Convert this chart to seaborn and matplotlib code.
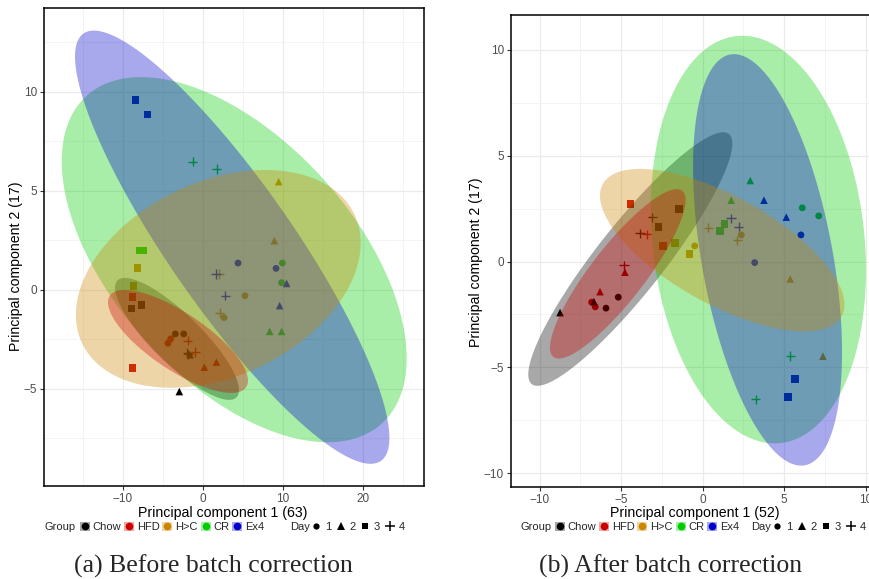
import numpy as np
import pandas as pd
import matplotlib
matplotlib.use("Agg")
import matplotlib.pyplot as plt
import seaborn as sns
from matplotlib.patches import Patch
from matplotlib.lines import Line2D

sns.set_theme(style="white")
plt.rcParams["font.family"] = ["Liberation Sans", "DejaVu Sans"]

# ---- study design: 5 diet groups x 4 days x 2 replicates ----
GROUPS = ["Chow", "HFD", "H>C", "CR", "Ex4"]
GROUP_COLORS = ["#000000", "#CD0000", "#CD8500", "#00CD00", "#0000CD"]
DAYS = [1, 2, 3, 4]
DAY_MARKERS = ["o", "^", "s", "+"]

sample_group = [g for g in GROUPS for d in DAYS for _ in range(2)]
sample_day = [d for g in GROUPS for d in DAYS for _ in range(2)]

# ---- PCA scores before batch correction (PC1 63 %, PC2 17 %) ----
before_pc1 = [-3.46, -2.41, -2.96, -1.63, -8.96, -7.71, -1.96, -1.85,   # Chow
              -4.04, -4.38, 0.17, 1.67, -8.83, -8.83, -1.92, -0.96,     # HFD
              5.25, 2.63, 9.46, 8.92, -8.21, -8.71, 2.04, 2.08,         # H>C
              9.92, 9.83, 8.33, 9.83, -7.90, -7.50, -1.29, 1.71,        # CR
              4.38, 9.13, 10.46, 9.58, -8.46, -6.96, 1.63, 2.79]        # Ex4
before_pc2 = [-2.22, -2.22, -5.13, -3.27, -0.93, -0.77, -3.17, -3.25,
              -2.47, -2.69, -3.90, -3.64, -0.37, -3.94, -2.56, -3.13,
              -0.29, -1.40, 5.47, 2.49, 1.10, 0.20, 0.81, -1.14,
              1.36, 0.37, -2.09, -2.09, 2.00, 2.00, 6.48, 6.11,
              1.36, 1.09, 0.33, -0.79, 9.58, 8.87, 0.81, -0.29]

# ---- PCA scores after batch correction (PC1 52 %, PC2 17 %) ----
after_pc1 = [-5.18, -5.93, -6.67, -8.75, -1.44, -2.72, -3.09, -3.85,
             -6.81, -6.59, -4.77, -6.30, -4.44, -2.42, -4.83, -3.44,
             -0.49, 2.37, 5.37, 7.38, -1.68, -0.82, 0.34, 2.12,
             6.11, 7.12, 2.92, 1.75, 1.33, 1.08, 5.37, 3.25,
             6.03, 3.19, 3.76, 5.13, 5.68, 5.25, 1.74, 2.21]
after_pc2 = [-1.68, -2.20, -1.89, -2.41, 2.48, 1.63, 2.10, 1.34,
             -1.92, -2.14, -0.50, -1.42, 2.71, 0.73, -0.17, 1.29,
             0.74, 1.26, -0.82, -4.47, 0.88, 0.36, 1.61, 1.01,
             2.54, 2.16, 3.83, 2.90, 1.78, 1.45, -4.46, -6.50,
             1.26, -0.05, 2.90, 2.10, -5.56, -6.41, 2.05, 1.64]

# ---- 95 % group ellipses: centre, half-extent along each PC, correlation ----
before_ell_cx = [-3.25, -3.13, 1.91, 3.90, 3.65]
before_ell_cy = [-2.47, -2.60, 0.56, 1.53, 2.16]
before_ell_hx = [7.75, 8.75, 17.80, 21.56, 19.65]
before_ell_hy = [3.08, 2.60, 5.50, 9.22, 10.94]
before_ell_r = [-0.84, -0.76, 0.33, -0.54, -0.88]

after_ell_cx = [-4.44, -5.21, 1.20, 3.42, 3.98]
after_ell_cy = [0.12, -0.58, 0.54, 1.04, 0.08]
after_ell_hx = [6.26, 4.16, 7.50, 6.60, 4.57]
after_ell_hy = [5.99, 4.00, 3.84, 9.63, 9.72]
after_ell_r = [0.91, 0.87, -0.67, -0.15, -0.45]

palette = dict(zip(GROUPS, GROUP_COLORS))
marker_of = dict(zip(DAYS, DAY_MARKERS))
marker_size = {1: 24, 2: 30, 3: 30, 4: 44}
ELL_ALPHA = 0.34
GRID_MAJOR = "#EBEBEB"
GRID_MINOR = "#F3F3F3"


def ellipse_outline(cx, cy, hx, hy, r, n=200):
    t = np.linspace(0, 2 * np.pi, n)
    x = cx + hx * np.cos(t)
    y = cy + hy * (r * np.cos(t) - np.sqrt(1 - r * r) * np.sin(t))
    return x, y


def draw_panel(ax, pc1, pc2, ell, xlim, ylim, xmaj, xmin, ymaj, ymin,
               xlabel, ylabel, xlab_pos, ylab_pos):
    df = pd.DataFrame({"PC1": pc1, "PC2": pc2,
                       "Group": sample_group, "Day": sample_day})
    for d in DAYS:
        sub = df[df["Day"] == d]
        m = marker_of[d]
        lw = 1.0 if m == "+" else 0
        sns.scatterplot(data=sub, x="PC1", y="PC2", hue="Group",
                        palette=palette, hue_order=GROUPS, marker=m,
                        s=marker_size[d], linewidth=lw, legend=False,
                        ax=ax, zorder=2)
    cx, cy, hx, hy, rr = ell
    # ellipses are layered in alphabetical group order
    order = sorted(range(len(GROUPS)), key=lambda i: GROUPS[i].lower())
    for i in order:
        ex, ey = ellipse_outline(cx[i], cy[i], hx[i], hy[i], rr[i])
        ax.fill(ex, ey, color=GROUP_COLORS[i], alpha=ELL_ALPHA, lw=0, zorder=3)

    ax.set_xlim(*xlim)
    ax.set_ylim(*ylim)
    ax.set_xticks(xmaj)
    ax.set_xticks(xmin, minor=True)
    ax.set_yticks(ymaj)
    ax.set_yticks(ymin, minor=True)
    ax.grid(which="major", color=GRID_MAJOR, lw=0.9)
    ax.grid(which="minor", color=GRID_MINOR, lw=0.6)
    ax.set_axisbelow(True)
    ax.tick_params(which="major", length=3, width=0.8, color="#333333",
                   labelcolor="#4D4D4D", labelsize=8.5, pad=2,
                   bottom=True, left=True)
    ax.tick_params(which="minor", length=0)
    for s in ax.spines.values():
        s.set_color("black")
        s.set_linewidth(1.1)
    ax.set_xlabel(xlabel, fontsize=10.2, color="black")
    ax.set_ylabel(ylabel, fontsize=10.2, color="black")
    ax.xaxis.set_label_coords(*xlab_pos)
    ax.yaxis.set_label_coords(*ylab_pos)


W, H = 870, 579
fig = plt.figure(figsize=(W / 100, H / 100), dpi=100)


def fig_axes(left, top, right, bottom):
    return fig.add_axes([left / W, 1 - bottom / H, (right - left) / W,
                         (bottom - top) / H])


ax_a = fig_axes(44, 8, 424, 486)
ax_b = fig_axes(511, 15, 895, 487)

draw_panel(ax_a, before_pc1, before_pc2,
           (before_ell_cx, before_ell_cy, before_ell_hx, before_ell_hy, before_ell_r),
           (-19.875, 27.625), (-9.9, 14.24),
           [-10, 0, 10, 20], [-15, -5, 5, 15, 25],
           [-5, 0, 5, 10], [-7.5, -2.5, 2.5, 7.5, 12.5],
           "Principal component 1 (63)", "Principal component 2 (17)",
           (0.47, -0.041), (-0.054, 0.46))
draw_panel(ax_b, after_pc1, after_pc2,
           (after_ell_cx, after_ell_cy, after_ell_hx, after_ell_hy, after_ell_r),
           (-11.76, 11.8), (-10.65, 11.65),
           [-10, -5, 0, 5, 10], [-7.5, -2.5, 2.5, 7.5],
           [-10, -5, 0, 5, 10], [-7.5, -2.5, 2.5, 7.5],
           "Principal component 1 (52)", "Principal component 2 (17)",
           (0.478, -0.041), (-0.072, 0.476))


def add_legends(group_title_x, group_x, day_title_x, day_x, y):
    yf = 1 - y / H
    fig.text(group_title_x / W, yf, "Group", fontsize=8, va="center", ha="left")
    handles = [(Patch(facecolor=c, alpha=ELL_ALPHA, edgecolor="none"),
                Line2D([], [], marker="o", color=c, ls="none", markersize=4.5))
               for c in GROUP_COLORS]
    fig.legend(handles, GROUPS, loc="center left",
               bbox_to_anchor=(group_x / W, yf), ncol=5, frameon=False,
               fontsize=8, handlelength=0.9, handleheight=0.9,
               handletextpad=0.25, columnspacing=0.25, borderpad=0,
               borderaxespad=0)
    fig.text(day_title_x / W, yf, "Day", fontsize=8, va="center", ha="left")
    dh = [Line2D([], [], marker=m, color="black", ls="none",
                 markersize={"o": 4.5, "^": 5.5, "s": 5, "+": 7}[m],
                 markeredgewidth=1.1 if m == "+" else 0)
          for m in DAY_MARKERS]
    fig.legend(dh, [str(d) for d in DAYS], loc="center left",
               bbox_to_anchor=(day_x / W, yf), ncol=4, frameon=False,
               fontsize=8, handlelength=0.9, handleheight=0.9,
               handletextpad=0.35, columnspacing=0.4, borderpad=0,
               borderaxespad=0)


add_legends(45, 80, 290, 311, 527)
add_legends(521, 555, 751, 772, 527)

cap_y = 1 - 566 / H
fig.text(213 / W, cap_y, "(a) Before batch correction", ha="center", va="center",
         fontsize=18.5, family=["Liberation Serif", "DejaVu Serif"])
fig.text(671 / W, cap_y, "(b) After batch correction", ha="center", va="center",
         fontsize=18.5, family=["Liberation Serif", "DejaVu Serif"])

fig.savefig("out.png", dpi=100)
